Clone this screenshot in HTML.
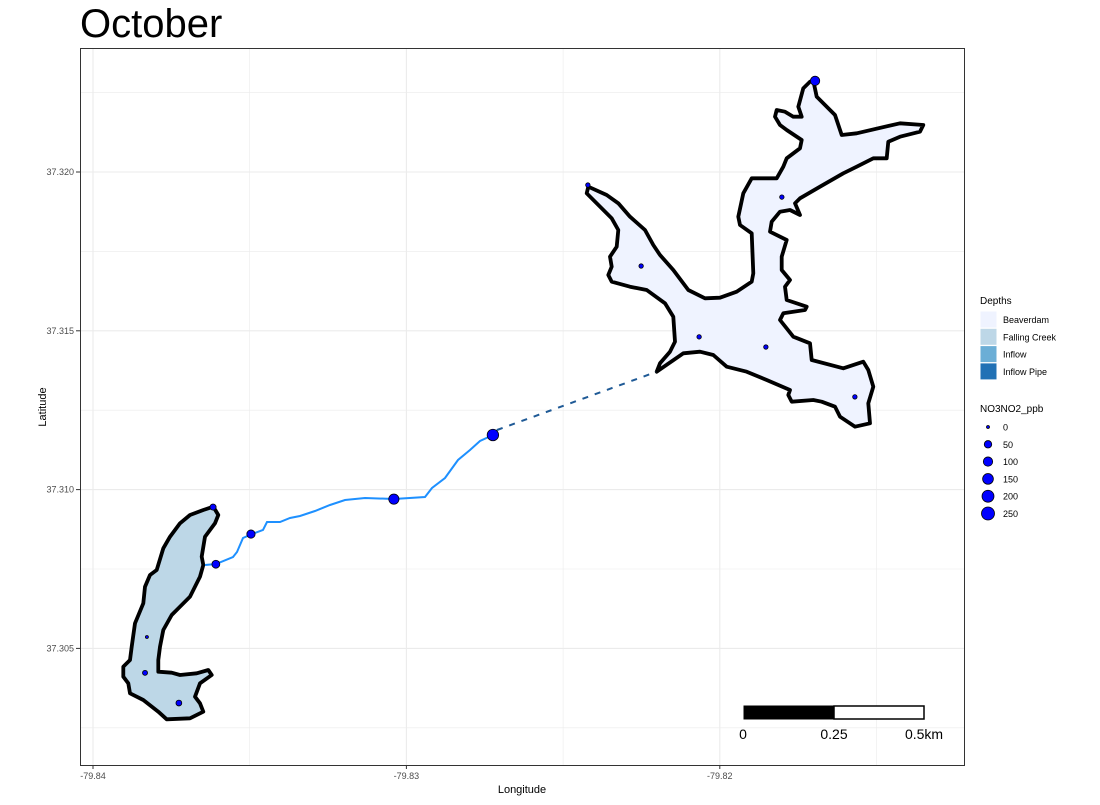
<!DOCTYPE html>
<html><head><meta charset="utf-8"><style>
body{margin:0;background:#fff;font-family:"Liberation Sans",sans-serif}
</style></head><body>
<svg id="chart" width="1100" height="800" xmlns="http://www.w3.org/2000/svg" font-family="Liberation Sans, sans-serif">
<rect width="1100" height="800" fill="#fff"/>
<text x="80" y="37" font-size="40" fill="#000">October</text>
<g id="grid"></g>
<g id="lakes"></g>
<g id="stream"></g>
<g id="pts"></g>
<rect x="80.5" y="48.5" width="884" height="717" fill="none" stroke="#333" stroke-width="1"/>
<g id="axes"></g>
<g>
<rect x="744" y="706" width="90" height="13" fill="#000" stroke="#000"/>
<rect x="834" y="706" width="90" height="13" fill="#fff" stroke="#000" stroke-width="1.5"/>
<text x="743" y="739" font-size="14" text-anchor="middle">0</text>
<text x="834" y="739" font-size="14" text-anchor="middle">0.25</text>
<text x="924" y="739" font-size="14" text-anchor="middle">0.5km</text>
</g>
<text x="522" y="793" font-size="11" text-anchor="middle">Longitude</text>
<text transform="translate(46,407) rotate(-90)" font-size="11" text-anchor="middle">Latitude</text>
<g id="legend"></g>
</svg>
<script>
// ---- data ----
const lonTicks=[-79.84,-79.83,-79.82];
const latTicks=[37.305,37.310,37.315,37.320];
const siteLon=[-79.81696,-79.81802,-79.82251,-79.82066,-79.81853,-79.81569,-79.82421,-79.83617,-79.83608,-79.83496,-79.83828,-79.83834,-79.83726,-79.83040,-79.82724];
const siteLat=[37.32287,37.31921,37.31704,37.31481,37.31449,37.31292,37.31959,37.30945,37.30765,37.30860,37.30536,37.30423,37.30328,37.30970,37.31172];
const siteNO3=[100,5,5,5,5,5,5,25,60,70,0,10,20,130,180];
const depthNames=["Beaverdam","Falling Creek","Inflow","Inflow Pipe"];
const depthColors=["#eff3ff","#bdd7e7","#6baed6","#2171b5"];
const sizeBreaks=[0,50,100,150,200,250];
// ---- scales ----
const xS=lon=>93+(lon+79.84)*31340;
const yS=lat=>172-(lat-37.32)*31760;
const rS=v=>1.5+5*Math.sqrt(v/250);
const NS="http://www.w3.org/2000/svg";
function mk(tag,attrs,parent){const e=document.createElementNS(NS,tag);for(const k in attrs)e.setAttribute(k,attrs[k]);parent.appendChild(e);return e;}
const grid=document.getElementById('grid'),axes=document.getElementById('axes');
[-79.835,-79.825,-79.815].forEach(v=>{const l=mk('line',{x1:xS(v),x2:xS(v),y1:48,y2:765,stroke:'#ebebeb','stroke-width':0.6},grid);

});
[37.3025,37.3075,37.3125,37.3175,37.3225].forEach(v=>{const l=mk('line',{x1:80,x2:965,y1:yS(v),y2:yS(v),stroke:'#ebebeb','stroke-width':0.6},grid);

});
lonTicks.forEach(v=>{const x=xS(v);const l=mk('line',{x1:x,x2:x,y1:48,y2:765,stroke:'#ebebeb','stroke-width':1.1},grid);


mk('line',{x1:x,x2:x,y1:765,y2:769,stroke:'#333'},axes);
const t=mk('text',{x:x,y:779,'font-size':9,'text-anchor':'middle',fill:'#4d4d4d'},axes);t.textContent=v.toFixed(2);

});
latTicks.forEach(v=>{const y=yS(v);const l=mk('line',{x1:80,x2:965,y1:y,y2:y,stroke:'#ebebeb','stroke-width':1.1},grid);


mk('line',{x1:76,x2:80,y1:y,y2:y,stroke:'#333'},axes);
const t=mk('text',{x:74,y:y+3,'font-size':9,'text-anchor':'end',fill:'#4d4d4d'},axes);t.textContent=v.toFixed(3);

});
// ---- lake geometry (basemap) ----
const bvr=[[700,32],[710,80],[765,135],[785,195],[830,190],[960,160],[1030,165],[1020,185],[960,200],[925,215],[920,265],[880,265],[830,290],[790,310],[720,350],[660,385],[645,400],[660,435],[630,420],[600,425],[575,455],[570,485],[620,510],[605,560],[605,600],[630,630],[615,650],[620,690],[680,710],[675,720],[610,730],[600,750],[640,800],[690,820],[695,870],[790,895],[850,875],[865,900],[880,950],[865,1000],[870,1060],[825,1070],[780,1040],[765,1010],[725,995],[700,990],[635,995],[625,975],[630,960],[560,930],[500,905],[440,890],[400,855],[360,845],[310,850],[230,905],[240,880],[270,845],[285,815],[280,740],[255,700],[200,660],[150,650],[95,635],[85,615],[95,590],[90,560],[110,530],[115,480],[95,445],[50,400],[20,370],[25,350],[80,375],[115,400],[150,440],[195,480],[220,525],[240,555],[280,600],[325,660],[375,685],[420,683],[470,665],[515,635],[520,610],[515,490],[480,465],[475,440],[490,370],[515,325],[590,325],[610,290],[620,265],[660,235],[665,210],[620,180],[600,165],[585,140],[590,120],[615,125],[640,140],[665,140],[655,110],[670,55],[690,35]].map(p=>[580+p[0]/3,70+p[1]/3]);
const fcr=[[340,50],[355,75],[345,100],[315,140],[305,200],[310,225],[300,260],[270,320],[240,350],[215,375],[190,420],[180,470],[175,510],[175,545],[215,548],[240,555],[290,550],[325,540],[335,555],[300,580],[285,620],[300,640],[310,665],[270,685],[200,688],[175,665],[130,630],[90,610],[85,580],[70,560],[70,530],[90,510],[95,470],[105,400],[130,340],[135,290],[150,255],[170,240],[190,175],[210,140],[240,100],[270,75],[310,60]].map(p=>[100+p[0]/3,490+p[1]/3]);
const lakes=document.getElementById('lakes');
const pstr=a=>a.map(p=>p[0].toFixed(1)+','+p[1].toFixed(1)).join(' ');
const b=mk('polygon',{points:pstr(bvr),fill:depthColors[0],stroke:'#000','stroke-width':3.8,'stroke-linejoin':'round'},lakes);


const f=mk('polygon',{points:pstr(fcr),fill:depthColors[1],stroke:'#000','stroke-width':3.8,'stroke-linejoin':'round'},lakes);


const st=document.getElementById('stream');
const inflow=[[205,565],[216,564],[233,557],[237,552],[243,538],[252,534],[263,530],[267,522],[280,522],[290,518],[300,516],[315,511],[330,505],[345,500],[365,498],[394,499],[425,497],[432,488],[445,478],[458,460],[470,450],[480,441],[493,435],[497,430]];
const s1=mk('polyline',{points:pstr(inflow),fill:'none',stroke:'#1e90ff','stroke-width':2},st);


const s2=mk('line',{x1:497,y1:430,x2:656,y2:372,stroke:'#1f5a96','stroke-width':2,'stroke-dasharray':'6,7'},st);


const pts=document.getElementById('pts');
siteLon.forEach((lon,i)=>{const c=mk('circle',{cx:xS(lon),cy:yS(siteLat[i]),r:rS(siteNO3[i]),fill:'#0000ff',stroke:'#000','stroke-width':0.8},pts);

});
const lg=document.getElementById('legend');
let t=mk('text',{x:980,y:304,'font-size':10},lg);t.textContent='Depths';


depthNames.forEach((n,i)=>{const y=311+i*17.3;
const r=mk('rect',{x:980.5,y:y+0.5,width:16,height:16,fill:depthColors[i]},lg);


const tx=mk('text',{x:1003,y:y+12,'font-size':9},lg);tx.textContent=n;

});
t=mk('text',{x:980,y:412,'font-size':10},lg);t.textContent='NO3NO2_ppb';


sizeBreaks.forEach((v,i)=>{const y=427+i*17.3;
const c=mk('circle',{cx:988,cy:y,r:rS(v),fill:'#0000ff',stroke:'#000','stroke-width':0.8},lg);


const tx=mk('text',{x:1003,y:y+3.5,'font-size':9},lg);tx.textContent=v;

});
</script>
</body></html>
